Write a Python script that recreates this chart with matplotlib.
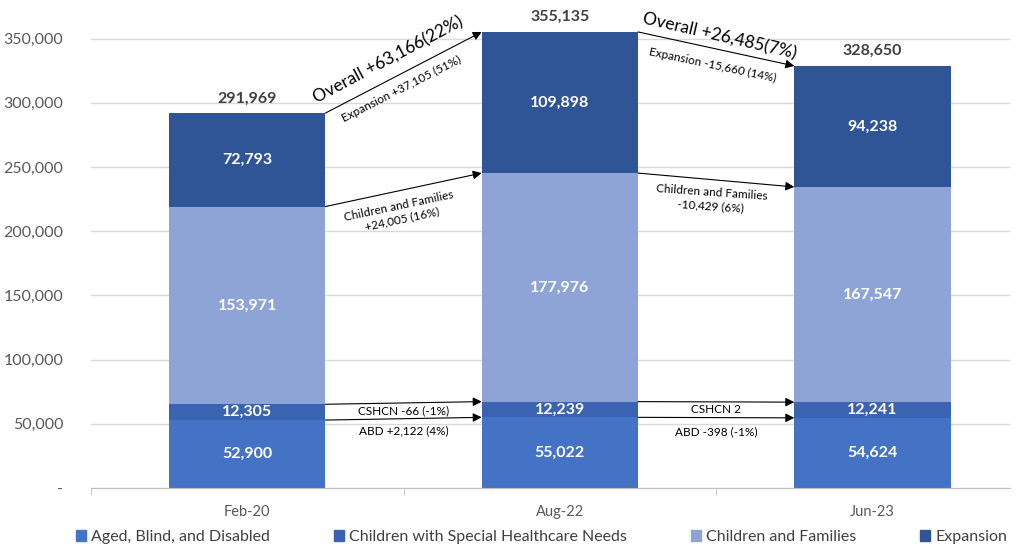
import matplotlib.pyplot as plt
from matplotlib.patches import Patch
from matplotlib.ticker import FuncFormatter

plt.rcParams['font.family'] = ['Lato', 'DejaVu Sans']

periods = ['Feb-20', 'Aug-22', 'Jun-23']
abd = [52900, 55022, 54624]
cshcn = [12305, 12239, 12241]
families = [153971, 177976, 167547]
expansion = [72793, 109898, 94238]

series_names = ['Aged, Blind, and Disabled', 'Children with Special Healthcare Needs',
                'Children and Families', 'Expansion']
colors = ['#4472C4', '#3A64B2', '#8FA4D6', '#2F5597']

# change annotations between periods (text as shown in the source)
overall_labels = ['Overall +63,166(22%)', 'Overall +26,485(7%)']
expansion_labels = ['Expansion +37,105 (51%)', 'Expansion -15,660 (14%)']
families_labels = ['Children and Families\n+24,005 (16%)', 'Children and Families\n-10,429 (6%)']
cshcn_labels = ['CSHCN -66 (-1%)', 'CSHCN 2']
abd_labels = ['ABD +2,122 (4%)', 'ABD -398 (-1%)']

fig = plt.figure(figsize=(10.16, 5.56), dpi=100)
ax = fig.add_axes([91 / 1016, 68 / 556, 919 / 1016, 488 / 556])

x = list(range(len(periods)))
width = 0.5
stack = [abd, cshcn, families, expansion]
bottoms = [0] * len(periods)
levels = []
for vals, col, name in zip(stack, colors, series_names):
    ax.bar(x, vals, width, bottom=bottoms, color=col, label=name, zorder=2)
    for i, v in enumerate(vals):
        ax.text(x[i], bottoms[i] + v / 2, f'{v:,}', ha='center', va='center',
                color='white', fontsize=11.5, fontweight='bold', zorder=3)
    bottoms = [b + v for b, v in zip(bottoms, vals)]
    levels.append(list(bottoms))

totals = bottoms
for i, t in enumerate(totals):
    ax.text(x[i], t + 6000, f'{t:,}', ha='center', va='bottom', color='#404040',
            fontsize=11.5, fontweight='bold')

# arrows from each bar's segment top to the next bar's
arrow_kw = dict(arrowstyle='-|>', color='black', lw=0.8, mutation_scale=13,
                shrinkA=0, shrinkB=0)
for i in range(len(periods) - 1):
    x0 = x[i] + width / 2
    x1 = x[i + 1] - width / 2
    for lev in levels:
        ax.annotate('', xy=(x1, lev[i + 1]), xytext=(x0, lev[i]), arrowprops=arrow_kw,
                    annotation_clip=False)

# text annotations
ax.text(0.452, 333600, overall_labels[0], rotation=28, rotation_mode='anchor',
        ha='center', va='center', fontsize=12.5, color='black')
ax.text(0.494, 311000, expansion_labels[0], rotation=27, rotation_mode='anchor',
        ha='center', va='center', fontsize=8.5, color='black')
ax.text(1.51, 352000, overall_labels[1], rotation=-13, rotation_mode='anchor',
        ha='center', va='center', fontsize=12.5, color='black')
ax.text(1.49, 329000, expansion_labels[1], rotation=-12, rotation_mode='anchor',
        ha='center', va='center', fontsize=8.5, color='black')
ax.text(0.49, 214400, families_labels[0], rotation=12, rotation_mode='anchor',
        ha='center', va='center', fontsize=8.5, color='black', linespacing=1.3)
ax.text(1.484, 224500, families_labels[1], rotation=-4, rotation_mode='anchor',
        ha='center', va='center', fontsize=8.5, color='black', linespacing=1.3)
ax.text(0.5, 60000, cshcn_labels[0], ha='center', va='center', fontsize=8.5)
ax.text(0.5, 44400, abd_labels[0], ha='center', va='center', fontsize=8.5)
ax.text(1.5, 60800, cshcn_labels[1], ha='center', va='center', fontsize=8.5)
ax.text(1.5, 43650, abd_labels[1], ha='center', va='center', fontsize=8.5)

ax.set_xlim(-0.5, 2.44)
ax.set_ylim(0, 380000)
ax.set_yticks(range(0, 350001, 50000))
ax.yaxis.set_major_formatter(FuncFormatter(lambda v, p: '-' if v == 0 else f'{int(v):,}'))
ax.set_xticks(x)
ax.set_xticklabels(periods)
ax.set_xticks([-0.5, 0.5, 1.5], minor=True)
ax.tick_params(axis='x', which='major', length=0, pad=12, labelsize=10.5, labelcolor='#595959')
ax.tick_params(axis='x', which='minor', length=5, color='#BFBFBF', direction='out')
ax.tick_params(axis='y', length=0, pad=20, labelsize=11.5, labelcolor='#595959')
ax.grid(axis='y', color='#D9D9D9', lw=1, zorder=0)
for s in ['top', 'right', 'left']:
    ax.spines[s].set_visible(False)
ax.spines['bottom'].set_color('#BFBFBF')

handles = [Patch(color=c, label=n) for c, n in zip(colors, series_names)]
fig.legend(handles=handles, loc='lower center', bbox_to_anchor=(0.533, -0.005), ncol=4,
           frameon=False, fontsize=11.5, handlelength=0.65, handleheight=0.65,
           handletextpad=0.3, columnspacing=4.0, labelcolor='#404040')

fig.savefig('out.png', dpi=100)
